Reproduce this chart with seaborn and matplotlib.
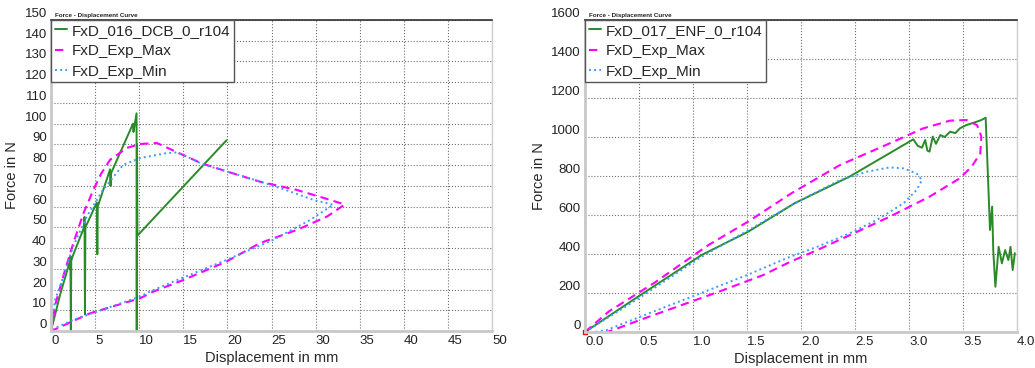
import numpy as np
import pandas as pd
import matplotlib.pyplot as plt
import seaborn as sns

# ---- left panel: DCB test ----
dcb_x = [0, 1.0, 2.1, 2.15, 2.2, 2.25, 2.3, 2.45, 3.75, 3.8, 3.85, 3.9, 5.2, 5.25, 5.3,
         6.7, 6.75, 6.8, 9.3, 9.35, 9.7, 9.72, 9.75, 9.8, 19.9]
dcb_f = [0, 17, 33, 30, 36, 0.5, 34, 36, 50, 55, 8, 50, 62, 37, 60,
         78, 70, 76, 100, 96, 105, 0, 90, 46, 92]

dcb_max_x = [0, 0.5, 1.5, 2.5, 3.7, 4.8, 5.7, 6.7, 8.6, 10.1, 12.0, 14.4, 17.0, 19.9, 23.7,
             27.9, 31.6, 33.3, 31.3, 27.9, 23.7, 19.9, 15.0, 11.6, 10.1, 4.4, 0.3, 0]
dcb_max_f = [0, 13, 28, 42, 57, 68, 76, 82.6, 88.3, 90.2, 90.7, 86, 81, 77, 72,
             68, 63.3, 61, 55.2, 48.8, 42.4, 33.5, 24.6, 19, 15.8, 8.5, 0.5, 0]

dcb_min_x = [0, 0.45, 1.0, 2.5, 4.05, 5.9, 8.2, 10.1, 13.1, 14.1, 15.0, 17.3, 19.9, 23.7,
             27.1, 29.7, 32.0, 29.4, 25.2, 19.9, 14.3, 11.2, 10.1, 2.5, 0]
dcb_min_f = [0, 15, 21, 40.7, 55.2, 68.1, 80.2, 83.4, 85.8, 86.1, 85, 80.2, 77, 72.1,
             67.3, 63.3, 60.9, 53.6, 44, 34.3, 24.6, 19, 16.6, 5.3, 0.5]

# ---- right panel: ENF test ----
enf_x = [0, 0.49, 1.08, 1.51, 1.94, 2.45, 3.04, 3.08, 3.12, 3.15, 3.17, 3.19, 3.22, 3.25,
         3.29, 3.33, 3.38, 3.43, 3.47, 3.53, 3.58, 3.63, 3.67, 3.71, 3.73, 3.75, 3.77, 3.78,
         3.80, 3.83, 3.86, 3.89, 3.92, 3.94, 3.96, 3.98]
enf_f = [0, 181, 395, 514, 660, 797, 988, 955, 945, 985, 930, 925, 1002, 965,
         1010, 1000, 1027, 1020, 1044, 1061, 1070, 1079, 1087, 1099, 813, 523, 643, 420,
         232, 437, 352, 420, 369, 437, 318, 404]

enf_max_x = [0, 0.22, 0.65, 1.14, 1.51, 1.91, 2.36, 2.82, 3.13, 3.38, 3.53, 3.63, 3.67, 3.66,
             3.58, 3.47, 3.19, 2.82, 2.52, 2.15, 1.9, 1.65, 1.28, 0.94, 0.51, 0.26, 0.2]
enf_max_f = [0, 105, 255, 445, 566, 711, 856, 967, 1044, 1084, 1087, 1061, 1002, 916,
             848, 788, 694, 591, 514, 420, 360, 292, 215, 147, 62, 10, 0]

enf_min_x = [0, 0.49, 1.08, 1.57, 1.94, 2.36, 2.61, 2.82, 2.95, 3.07, 3.12, 3.07, 2.95,
             2.7, 2.45, 2.15, 1.9, 1.5, 1.03, 0.51, 0.2, 0.09]
enf_min_f = [0, 170, 386, 540, 660, 779, 822, 844, 839, 813, 779, 728, 660,
             574, 506, 437, 386, 292, 190, 78, 10, 0]

GREEN = '#2a8a2a'
MAGENTA = '#ff00ff'
BLUE = '#3d9bff'

sns.set_style('white')
plt.rcParams['font.family'] = ['Liberation Sans', 'DejaVu Sans']


def draw_panel(ax, test_name, test, exp_max, exp_min, xlim, ylim, xstep, ystep, xfmt):
    df_t = pd.DataFrame({'x': test[0], 'f': test[1]})
    df_max = pd.DataFrame({'x': exp_max[0], 'f': exp_max[1]})
    df_min = pd.DataFrame({'x': exp_min[0], 'f': exp_min[1]})
    sns.lineplot(data=df_t, x='x', y='f', sort=False, estimator=None, ax=ax,
                 color=GREEN, lw=1.4, label=test_name)
    sns.lineplot(data=df_max, x='x', y='f', sort=False, estimator=None, ax=ax,
                 color=MAGENTA, lw=1.5, label='FxD_Exp_Max', dashes=False)
    sns.lineplot(data=df_min, x='x', y='f', sort=False, estimator=None, ax=ax,
                 color=BLUE, lw=1.4, label='FxD_Exp_Min', dashes=False)
    ax.lines[1].set_dashes((4, 2.5))
    ax.lines[2].set_linestyle(':')

    ax.set_xlim(*xlim)
    ax.set_ylim(*ylim)
    ax.set_xticks(np.arange(xlim[0], xlim[1] + xstep / 2, xstep))
    ax.set_yticks(np.arange(ylim[0], ylim[1] + ystep / 2, ystep))
    ax.set_xticklabels([xfmt.format(v) for v in ax.get_xticks()], ha='left')
    ax.set_yticklabels(['{:.0f}'.format(v) for v in ax.get_yticks()], va='bottom')
    ax.tick_params(length=0, labelsize=9.5, colors='#222222', pad=3)
    ax.grid(True, linestyle=':', color='#707070', lw=0.8)
    ax.set_axisbelow(True)

    ax.set_xlabel('Displacement in mm', fontsize=10.5, labelpad=3)
    ax.set_ylabel('Force in N', fontsize=10.5, labelpad=4)

    for side in ['left', 'bottom']:
        ax.spines[side].set_color('#c8c8c8')
        ax.spines[side].set_linewidth(2)
    ax.spines['right'].set_color('#d0d0d0')
    ax.spines['right'].set_linewidth(1)
    ax.spines['top'].set_color('#303030')
    ax.spines['top'].set_linewidth(1.2)

    ax.text(0.01, 1.008, 'Force - Displacement Curve', transform=ax.transAxes,
            fontsize=4.5, fontweight='bold', va='bottom', ha='left', color='#222222')

    leg = ax.legend(loc='upper left', borderaxespad=0, fontsize=11, handlelength=0.8,
                    handletextpad=0.3, labelspacing=0.42, borderpad=0.25,
                    fancybox=False, framealpha=1, edgecolor='#555555')
    leg.get_frame().set_linewidth(1)


fig = plt.figure(figsize=(10.35, 3.68), dpi=100)
ax1 = fig.add_axes([51 / 1035, 37 / 368, 441 / 1035, 311 / 368])
ax2 = fig.add_axes([585 / 1035, 36 / 368, 432 / 1035, 312 / 368])

draw_panel(ax1, 'FxD_016_DCB_0_r104', (dcb_x, dcb_f), (dcb_max_x, dcb_max_f),
           (dcb_min_x, dcb_min_f), (0, 50), (0, 150), 5, 10, '{:.0f}')
draw_panel(ax2, 'FxD_017_ENF_0_r104', (enf_x, enf_f), (enf_max_x, enf_max_f),
           (enf_min_x, enf_min_f), (0, 4), (0, 1600), 0.5, 200, '{:.1f}')
ax2.plot(enf_x[:1], enf_f[:1], 's', color='red', ms=3, clip_on=False)

fig.savefig('out.png', dpi=100)
